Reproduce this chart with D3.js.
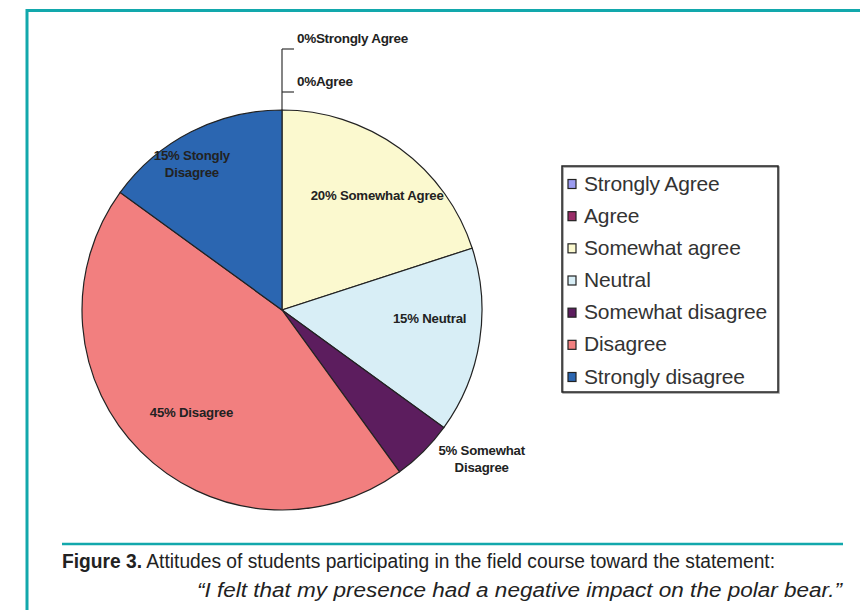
<!DOCTYPE html>
<html>
<head>
<meta charset="utf-8">
<script src="https://cdn.jsdelivr.net/npm/d3@7"></script>
<style>
  body { margin: 0; background: #fff; }
  svg text { font-family: "Liberation Sans", Arial, sans-serif; }
</style>
</head>
<body>
<div id="chart"></div>
<script>
// Responses to: "I felt that my presence had a negative impact on the polar bear."
const categories = ["Strongly Agree", "Agree", "Somewhat agree", "Neutral",
                    "Somewhat disagree", "Disagree", "Strongly disagree"];
const percents = [0, 0, 20, 15, 5, 45, 15];
const sliceLabels = [
  ["0%Strongly Agree"], ["0%Agree"], ["20% Somewhat Agree"], ["15% Neutral"],
  ["5% Somewhat", "Disagree"], ["45% Disagree"], ["15% Stongly", "Disagree"]
];
const colors = ["#9b9bf0", "#9a2d68", "#fbf9cf", "#d8eef6", "#5c1d5e", "#f27f7f", "#2b66b1"];

const width = 860, height = 610;
const cx = 282, cy = 310, R = 200;

const svg = d3.select("#chart").append("svg")
    .attr("width", width)
    .attr("height", height);

// teal frame and divider
const teal = "#12a8ac";
svg.append("path")
    .attr("d", `M27,610 V10.5 H860`)
    .attr("fill", "none")
    .attr("stroke", teal)
    .attr("stroke-width", 3);
svg.append("line")
    .attr("x1", 62).attr("x2", 843)
    .attr("y1", 544).attr("y2", 544)
    .attr("stroke", teal)
    .attr("stroke-width", 2.5);

// pie
const data = categories.map((c, i) => ({ cat: c, value: percents[i], color: colors[i], label: sliceLabels[i] }));
const pie = d3.pie().sort(null).value(d => d.value);
const arcs = pie(data);
const arc = d3.arc().innerRadius(0).outerRadius(R);

const g = svg.append("g")
    .attr("transform", `translate(${cx},${cy})`);

g.selectAll("path.slice")
  .data(arcs.filter(d => d.value > 0))
  .enter().append("path")
    .attr("class", "slice")
    .attr("d", arc)
    .attr("fill", d => d.data.color)
    .attr("stroke", "#222")
    .attr("stroke-width", 1.2);

// label radius / angle nudges per slice (layout only)
const labelPos = {
  2: { r: 0.74, da: 4 },
  3: { r: 0.74, da: -5 },
  4: { r: 1.25, da: -8 },
  5: { r: 0.69, da: -4 },
  6: { r: 0.85, da: -5 }
};

arcs.forEach((d, i) => {
  if (d.value <= 0) return;
  const p = labelPos[i];
  const a = (d.startAngle + d.endAngle) / 2 + p.da * Math.PI / 180;
  const x = cx + Math.sin(a) * R * p.r;
  const y = cy - Math.cos(a) * R * p.r;
  const lines = d.data.label;
  const t = svg.append("text")
      .attr("x", x)
      .attr("y", y - (lines.length - 1) * 8.5)
      .attr("text-anchor", "middle")
      .attr("dominant-baseline", "middle")
      .attr("font-size", 13.2)
      .attr("font-weight", "bold")
      .attr("fill", "#222")
      .attr("letter-spacing", -0.2);
  lines.forEach((l, k) => {
    t.append("tspan").attr("x", x).attr("dy", k === 0 ? 0 : 17).text(l);
  });
});

// leader for the zero slices at 12 o'clock
const zero = arcs.filter(d => d.value === 0);
const topX = cx, topY = cy - R;
svg.append("line")
    .attr("x1", topX).attr("x2", topX)
    .attr("y1", topY).attr("y2", 49)
    .attr("stroke", "#333").attr("stroke-width", 1.2);
const tickY = [49, 92];
zero.forEach((d, k) => {
  svg.append("line")
      .attr("x1", topX).attr("x2", topX + 12)
      .attr("y1", tickY[k]).attr("y2", tickY[k])
      .attr("stroke", "#333").attr("stroke-width", 1.2);
  svg.append("text")
      .attr("x", topX + 15)
      .attr("y", tickY[k] - 6)
      .attr("font-size", 13.5)
      .attr("font-weight", "bold")
      .attr("fill", "#222")
      .attr("letter-spacing", -0.3)
      .text(d.data.label[0]);
});

// legend
const lg = svg.append("g").attr("transform", "translate(562,166)");
lg.append("rect")
    .attr("x", 1).attr("y", 1)
    .attr("width", 216).attr("height", 226)
    .attr("fill", "#fff")
    .attr("stroke", "#999")
    .attr("stroke-width", 1.5);
lg.append("rect")
    .attr("width", 216).attr("height", 226)
    .attr("fill", "none")
    .attr("stroke", "#222")
    .attr("stroke-width", 1.5);
const rowY = d3.scalePoint().domain(categories).range([18, 211]);
const item = lg.selectAll("g.item")
  .data(data)
  .enter().append("g")
    .attr("class", "item")
    .attr("transform", d => `translate(0,${rowY(d.cat)})`);
item.append("rect")
    .attr("x", 6).attr("y", -4.5)
    .attr("width", 8).attr("height", 9)
    .attr("fill", d => d.color)
    .attr("stroke", "#222")
    .attr("stroke-width", 1.2);
item.append("text")
    .attr("x", 22)
    .attr("y", 1)
    .attr("dominant-baseline", "middle")
    .attr("font-size", 21)
    .attr("fill", "#333")
    .attr("letter-spacing", -0.15)
    .text(d => d.cat);

// caption (condensed face squeezed to the original line lengths)
const cap = svg.append("text")
    .attr("x", 62).attr("y", 568)
    .attr("font-size", 20)
    .attr("fill", "#222")
    .attr("textLength", 713)
    .attr("lengthAdjust", "spacingAndGlyphs");
cap.append("tspan").attr("font-weight", "bold").text("Figure 3.");
cap.append("tspan").text(" Attitudes of students participating in the field course toward the statement:");
svg.append("text")
    .attr("x", 197).attr("y", 597)
    .attr("font-size", 20)
    .attr("font-style", "italic")
    .attr("fill", "#222")
    .attr("textLength", 645)
    .attr("lengthAdjust", "spacingAndGlyphs")
    .text("\u201cI felt that my presence had a negative impact on the polar bear.\u201d");
</script>
</body>
</html>
